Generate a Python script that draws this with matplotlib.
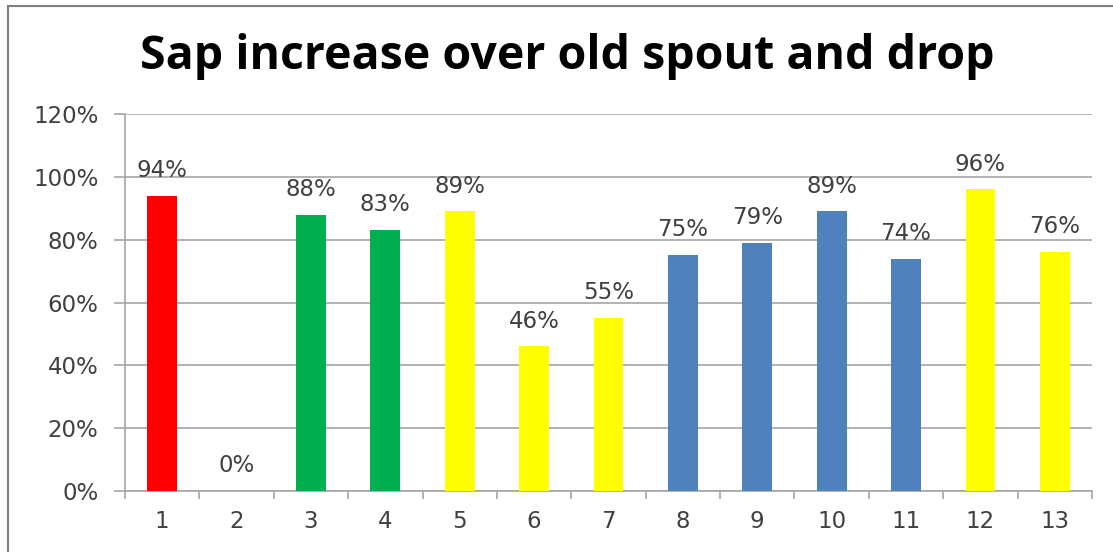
import numpy as np
import matplotlib.pyplot as plt
from matplotlib.patches import Rectangle

categories = [str(i) for i in range(1, 14)]
values = [94, 0, 88, 83, 89, 46, 55, 75, 79, 89, 74, 96, 76]
colors = ["#FF0000", "#FFFF00", "#00B050", "#00B050", "#FFFF00", "#FFFF00", "#FFFF00",
          "#4F81BD", "#4F81BD", "#4F81BD", "#4F81BD", "#FFFF00", "#FFFF00"]
yticks = [0, 20, 40, 60, 80, 100, 120]

plt.rcParams['font.family'] = ['DejaVu Sans']

fig = plt.figure(figsize=(11.13, 5.52), dpi=100)
ax = fig.add_axes([125 / 1113, 1 - 491 / 552, 967 / 1113, 377 / 552])

x = np.arange(len(values))
ax.bar(x, values, width=0.4, color=colors, zorder=3)
for xi, v in zip(x, values):
    ax.annotate(f"{v}%", (xi, v), xytext=(0, 10), textcoords="offset points",
                ha="center", va="bottom", fontsize=16.5, color="#404040")

ax.set_xlim(-0.5, len(values) - 0.5)
ax.set_ylim(0, 120)
ax.set_yticks(yticks)
ax.set_yticklabels([f"{t}%" for t in yticks], fontsize=16.5, color="#404040")
ax.yaxis.grid(True, color="#A6A6A6", linewidth=1.2, zorder=0)
ax.tick_params(axis="y", length=8, color="#A6A6A6", width=1.2, pad=11)

ax.set_xticks(x)
ax.set_xticklabels(categories, fontsize=16.5, color="#404040")
ax.set_xticks(np.arange(-0.5, len(values)), minor=True)
ax.tick_params(axis="x", which="major", length=0, pad=14)
ax.tick_params(axis="x", which="minor", length=6, color="#A6A6A6", width=1.2)

for s in ["top", "right"]:
    ax.spines[s].set_visible(False)
for s in ["left", "bottom"]:
    ax.spines[s].set_color("#A6A6A6")
    ax.spines[s].set_linewidth(1.2)

fig.text(567 / 1113, 1 - 57 / 552, "Sap increase over old spout and drop",
         ha="center", va="center", fontsize=33.5, fontweight="bold",
         family=["Open Sans", "DejaVu Sans"], color="black")

fig.patches.append(Rectangle((8 / 1113, -0.1), 1.2, 1 - 6 / 552 + 0.1,
                             transform=fig.transFigure, fill=False,
                             edgecolor="#7F7F7F", linewidth=1.5))

fig.savefig("out.png", dpi=100)
